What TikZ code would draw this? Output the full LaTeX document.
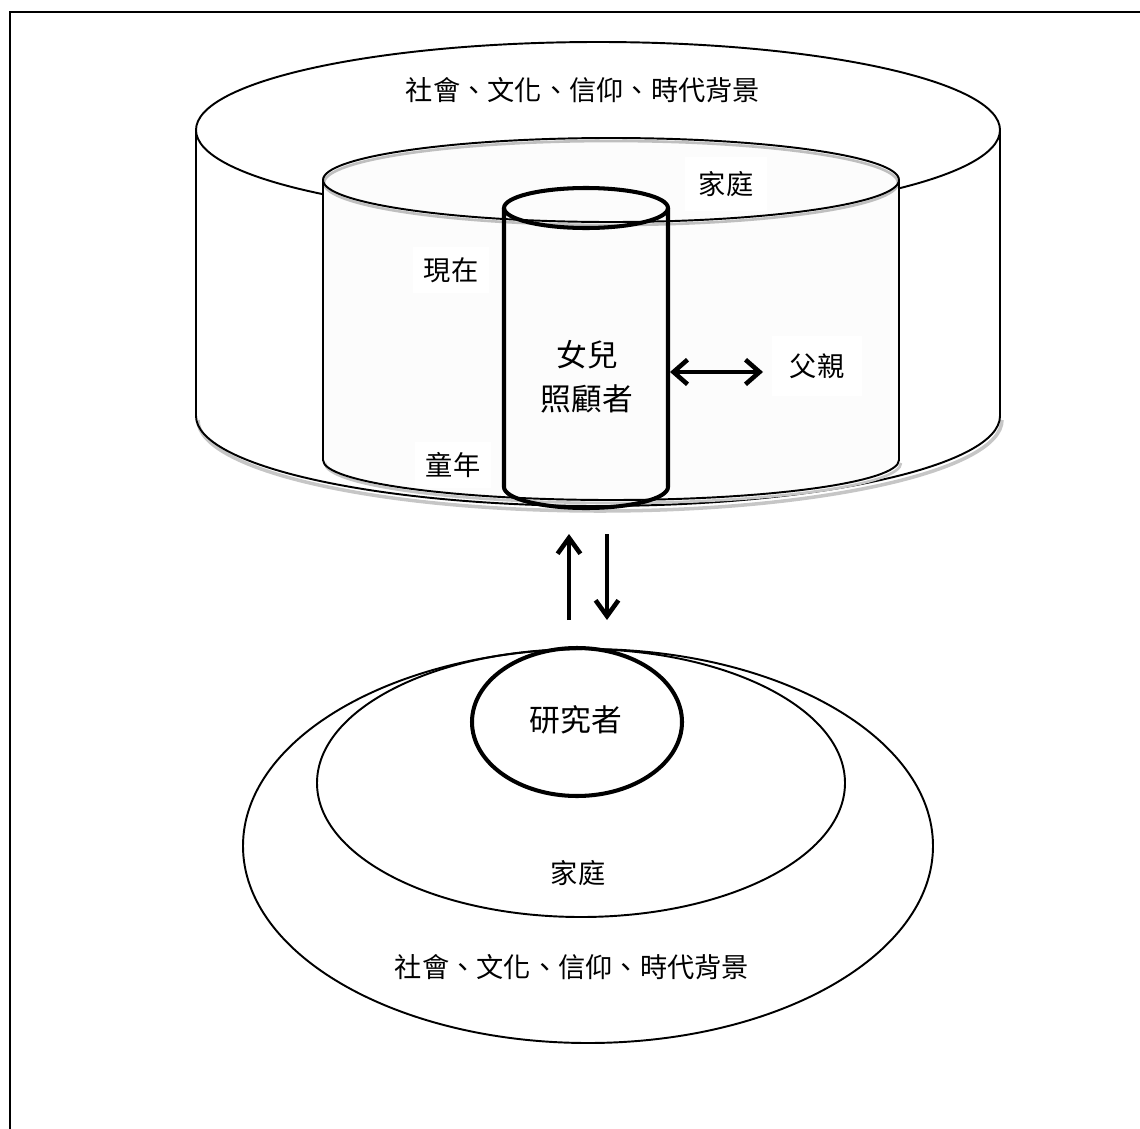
\documentclass[tikz,border=0pt]{standalone}
\usepackage{fontspec}
\newfontfamily\cjk{Noto Sans CJK TC}
\usepackage{tikz}
\usetikzlibrary{arrows.meta}

\begin{document}
\begin{tikzpicture}[x=0.02cm,y=0.02cm,
    lbl/.style={font=\cjk\fontsize{15.5}{19}\selectfont, inner sep=3pt},
    biglbl/.style={font=\cjk\fontsize{17.5}{25}\selectfont, align=center},
    wall/.style={line width=1.1pt},
    core/.style={line width=2.3pt},
    barb/.tip={Straight Barb[length=8pt,width=14pt,line width=2.6pt]},
    flow/.style={line width=2.6pt, -{Straight Barb[length=9pt,width=13pt]}}]
    \useasboundingbox (0,0) rectangle (1140,-1129);
    \draw [line width=1.3pt] (10,-1129) -- (10,-12) -- (1140,-12);

    \draw [gray!45, line width=2pt] (198,-420) arc [start angle=180, end angle=360, x radius=402, y radius=91];
    \draw [wall] (196,-130) -- (196,-416) arc [start angle=180, end angle=360, x radius=402, y radius=90] -- (1000,-130);
    \draw [wall] (598,-130) ellipse [x radius=402, y radius=88];

    \fill [black!1] (323,-180) -- (323,-460) arc [start angle=180, end angle=360, x radius=288, y radius=40] -- (899,-180) arc [start angle=0, end angle=180, x radius=288, y radius=42] -- cycle;
    \draw [gray!50, line width=1.5pt] (611,-183) ellipse [x radius=287, y radius=42];
    \draw [wall] (611,-180) ellipse [x radius=288, y radius=42];
    \draw [gray!45, line width=1.5pt] (325,-463) arc [start angle=180, end angle=360, x radius=288, y radius=40];
    \draw [wall] (323,-180) -- (323,-460) arc [start angle=180, end angle=360, x radius=288, y radius=40] -- (899,-180);

    \draw [core] (586,-208) ellipse [x radius=82, y radius=20];
    \draw [core] (504,-208) -- (504,-487) arc [start angle=180, end angle=360, x radius=82, y radius=21] -- (668,-208);

    \node [lbl] (soc1) at (583,-90) {社會、文化、信仰、時代背景};
    \node [lbl, fill=white, inner sep=8pt] (fam1) at (726,-184) {家庭};
    \node [lbl, fill=white, inner sep=6pt] (now) at (451,-270) {現在};
    \node [lbl, fill=white, inner sep=6pt] (child) at (453,-465) {童年};
    \node [biglbl] (daughter) at (587,-377) {女兒\\照顧者};
    \node [lbl, fill=white, inner sep=10pt] (father) at (817,-366) {父親};
    \coordinate (dc) at (670,-372);
    \coordinate (fa) at (763,-372);
    \draw [line width=1.9pt, barb-barb] (dc) -- (fa);

    \coordinate (up1) at (569,-620);
    \coordinate (up2) at (569,-534);
    \coordinate (dn1) at (607,-534);
    \coordinate (dn2) at (607,-620);
    \draw [flow] (up1) -- (up2);
    \draw [flow] (dn1) -- (dn2);

    \draw [wall] (588,-846) ellipse [x radius=345, y radius=197];
    \draw [wall] (581,-783) ellipse [x radius=264, y radius=134];
    \draw [core] (577,-722) ellipse [x radius=105, y radius=74];
    \node [biglbl] (researcher) at (576,-720) {研究者};
    \node [lbl] (fam2) at (578,-873) {家庭};
    \node [lbl] (soc2) at (572,-967) {社會、文化、信仰、時代背景};
\end{tikzpicture}
\end{document}
